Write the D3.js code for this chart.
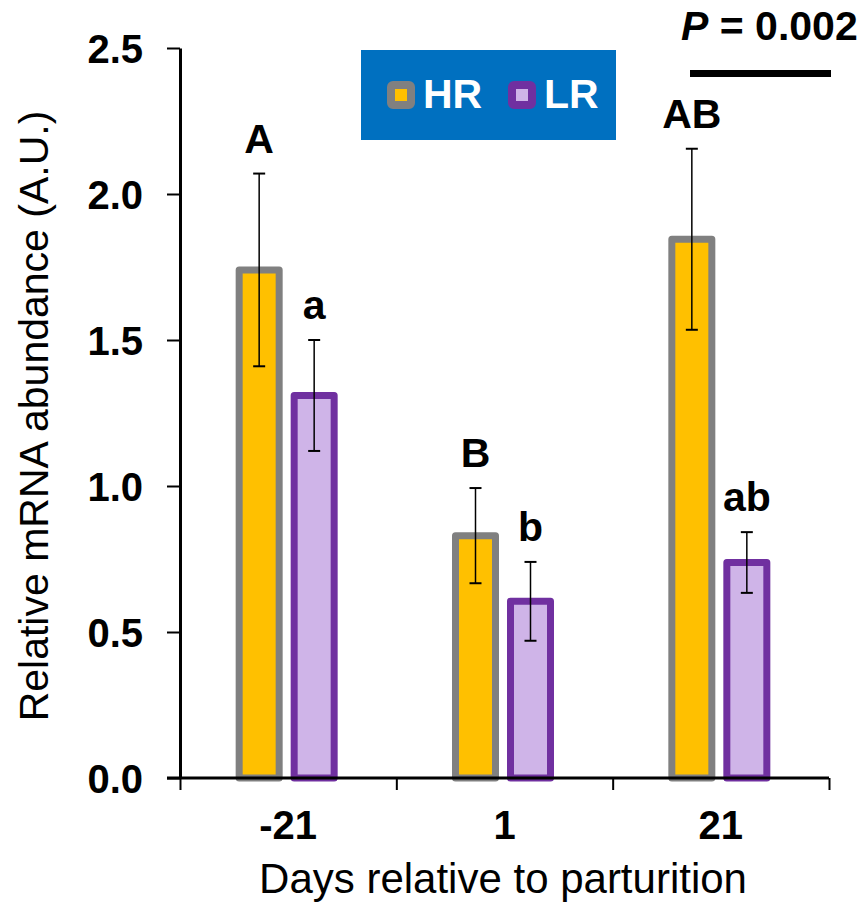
<!DOCTYPE html>
<html>
<head>
<meta charset="utf-8">
<script src="https://cdn.jsdelivr.net/npm/d3@7"></script>
<style>
  body { margin: 0; background: #fff; }
  svg { display: block; font-family: "Liberation Sans", Arial, sans-serif; }
</style>
</head>
<body>
<div id="chart"></div>
<script>
// values
const categories = ["-21", "1", "21"];
const hrMean = [1.74, 0.83, 1.845];
const hrSE = [0.33, 0.163, 0.31];
const lrMean = [1.31, 0.605, 0.738];
const lrSE = [0.19, 0.135, 0.104];
const hrLetters = ["A", "B", "AB"];
const lrLetters = ["a", "b", "ab"];
const yTicks = [0, 0.5, 1.0, 1.5, 2.0, 2.5];
const groups = ["HR", "LR"];

(function barchart() {
  let width = 866,
      height = 908,
      margin = ({ top: 48, right: 37, bottom: 130, left: 180 });

  const svg = d3.select("#chart")
    .append("svg")
    .attr("width", width)
    .attr("height", height);

  let y = d3.scaleLinear()
    .domain([0, 2.5])
    .range([height - margin.bottom, margin.top]);

  let x = d3.scaleBand()
    .domain(categories)
    .range([margin.left, width - margin.right]);

  let xEdge = d3.scaleLinear()
    .domain([0, categories.length])
    .range([margin.left, width - margin.right]);

  const colors = {
    HR: { fill: "#FFC000", stroke: "#808080", offset: -29 },
    LR: { fill: "#CFB4E8", stroke: "#7030A0", offset: 26 }
  };

  let rows = [];
  categories.forEach((c, i) => {
    rows.push({ cat: c, grp: "HR", mean: hrMean[i], se: hrSE[i], letter: hrLetters[i] });
    rows.push({ cat: c, grp: "LR", mean: lrMean[i], se: lrSE[i], letter: lrLetters[i] });
  });

  let barW = 40;
  let cx = d => x(d.cat) + x.bandwidth() / 2 + colors[d.grp].offset;

  // bars
  svg.append("g")
    .selectAll("rect")
    .data(rows)
    .join("rect")
    .attr("x", d => cx(d) - barW / 2)
    .attr("y", d => y(d.mean))
    .attr("width", barW)
    .attr("height", d => y(0) - y(d.mean))
    .attr("fill", d => colors[d.grp].fill)
    .attr("stroke", d => colors[d.grp].stroke)
    .attr("stroke-width", 7)
    .attr("stroke-linejoin", "round");

  // error bars
  let eb = svg.append("g")
    .attr("stroke", "#000")
    .selectAll("g")
    .data(rows)
    .join("g");

  eb.append("line")
    .attr("x1", cx).attr("x2", cx)
    .attr("y1", d => y(d.mean + d.se))
    .attr("y2", d => y(d.mean - d.se))
    .attr("stroke-width", 1.5);

  eb.append("line")
    .attr("x1", d => cx(d) - 6).attr("x2", d => cx(d) + 6)
    .attr("y1", d => y(d.mean + d.se))
    .attr("y2", d => y(d.mean + d.se))
    .attr("stroke-width", 2);

  eb.append("line")
    .attr("x1", d => cx(d) - 6).attr("x2", d => cx(d) + 6)
    .attr("y1", d => y(d.mean - d.se))
    .attr("y2", d => y(d.mean - d.se))
    .attr("stroke-width", 2);

  // significance letters
  svg.append("g")
    .selectAll("text")
    .data(rows)
    .join("text")
    .attr("x", cx)
    .attr("y", d => y(d.mean + d.se) - 21)
    .attr("text-anchor", "middle")
    .attr("font-size", 41)
    .attr("font-weight", "bold")
    .text(d => d.letter);

  // y axis
  let yAxis = svg.append("g")
    .attr("transform", `translate(${margin.left},0)`)
    .call(d3.axisLeft(y).tickValues(yTicks).tickFormat(d3.format(".1f"))
      .tickSize(13).tickSizeOuter(0).tickPadding(24));
  yAxis.select(".domain").attr("stroke-width", 3);
  yAxis.selectAll(".tick line").attr("stroke-width", 2);
  yAxis.selectAll(".tick text")
    .attr("font-size", 40)
    .attr("font-weight", "bold")
    .attr("font-family", "Liberation Sans, Arial, sans-serif")
    .attr("dy", "0.36em")
    .attr("fill", "#000");

  // x axis: line and boundary ticks
  let xAxis = svg.append("g")
    .attr("transform", `translate(0,${y(0)})`)
    .call(d3.axisBottom(xEdge).tickValues(d3.range(categories.length + 1))
      .tickFormat("").tickSize(12).tickSizeOuter(0));
  xAxis.select(".domain").attr("stroke-width", 3).attr("d", `M${margin.left - 13},0H${width - margin.right}`);
  xAxis.selectAll(".tick line").attr("stroke-width", 2);

  // category labels
  let xLab = svg.append("g")
    .attr("transform", `translate(0,${y(0)})`)
    .call(d3.axisBottom(x).tickSize(0).tickPadding(33));
  xLab.select(".domain").remove();
  xLab.selectAll(".tick text")
    .attr("font-size", 40)
    .attr("font-weight", "bold")
    .attr("font-family", "Liberation Sans, Arial, sans-serif")
    .attr("fill", "#000");

  // axis titles
  svg.append("text")
    .attr("x", 503)
    .attr("y", 893)
    .attr("text-anchor", "middle")
    .attr("font-size", 42)
    .text("Days relative to parturition");

  svg.append("text")
    .attr("transform", "translate(48,416) rotate(-90)")
    .attr("text-anchor", "middle")
    .attr("font-size", 41)
    .text("Relative mRNA abundance (A.U.)");

  // legend
  let legend = svg.append("g");
  legend.append("rect")
    .attr("x", 361).attr("y", 50)
    .attr("width", 255).attr("height", 90)
    .attr("fill", "#0070C0");

  let li = legend.selectAll("g")
    .data(groups)
    .join("g")
    .attr("transform", (d, i) => `translate(${391 + i * 121},85)`);

  li.append("rect")
    .attr("width", 20).attr("height", 20)
    .attr("rx", 2)
    .attr("fill", d => colors[d].fill)
    .attr("stroke", d => colors[d].stroke)
    .attr("stroke-width", 8);

  li.append("text")
    .attr("x", 32)
    .attr("y", 23)
    .attr("font-size", 41)
    .attr("font-weight", "bold")
    .attr("fill", "#fff")
    .text(d => d);

  // P value
  let p = svg.append("text")
    .attr("x", 681)
    .attr("y", 40)
    .attr("font-size", 41)
    .attr("font-weight", "bold");
  p.append("tspan").attr("font-style", "italic").text("P");
  p.append("tspan").text(" = 0.002");

  svg.append("line")
    .attr("x1", 690).attr("x2", 831)
    .attr("y1", 73.5).attr("y2", 73.5)
    .attr("stroke", "#000")
    .attr("stroke-width", 7);
})();
</script>
</body>
</html>
